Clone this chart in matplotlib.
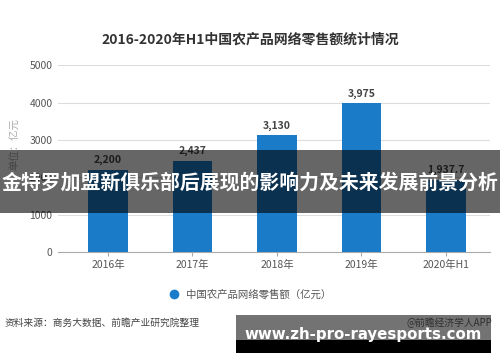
import matplotlib
matplotlib.use("Agg")
import matplotlib.pyplot as plt
from matplotlib.patches import Rectangle
from matplotlib.lines import Line2D

plt.rcParams['font.family'] = ['Noto Sans CJK SC', 'DejaVu Sans']

categories = ["2016年", "2017年", "2018年", "2019年", "2020年H1"]
values = [2200, 2437, 3130, 3975, 1937.7]
value_labels = ["2,200", "2,437", "3,130", "3,975", "1,937.7"]
yticks = [0, 1000, 2000, 3000, 4000, 5000]

title = "2016-2020年H1中国农产品网络零售额统计情况"
legend_label = "中国农产品网络零售额（亿元）"
source = "资料来源：商务大数据、前瞻产业研究院整理"
credit = "@前瞻经济学人APP"
banner = "金特罗加盟新俱乐部后展现的影响力及未来发展前景分析"
site = "www.zh-pro-rayesports.com"

fig = plt.figure(figsize=(5, 3.62), dpi=100)
fig.patch.set_facecolor("white")
ax = fig.add_axes([0.116, 0.304, 0.864, 0.516])

x = list(range(len(categories)))
bar_color = "#1a7cc8"
ax.bar(x, values, width=0.47, color=bar_color, zorder=3)
for xi, v, lab in zip(x, values, value_labels):
    ax.text(xi, v + 120, lab, ha="center", va="bottom", fontsize=7.5,
            fontweight="bold", color="#444444", zorder=4)

ax.set_xlim(-0.59, 4.52)
ax.set_ylim(0, 5000)
ax.set_yticks(yticks)
ax.set_yticklabels([str(t) for t in yticks], fontsize=7.5, color="#555555")
ax.set_xticks(x)
ax.set_xticklabels(categories, fontsize=7.5, color="#555555")
ax.grid(axis="y", color="#dddddd", linewidth=0.8, zorder=0)
for s in ["top", "right", "left"]:
    ax.spines[s].set_visible(False)
ax.spines["bottom"].set_color("#aaaaaa")
ax.tick_params(axis="y", length=0, pad=4)
ax.tick_params(axis="x", length=3, color="#aaaaaa", pad=3)
ax.set_ylabel("单位：亿元", fontsize=7.5, color="#aaaaaa", labelpad=2)
ax.yaxis.set_label_coords(-0.088, 0.58)

fig.text(0.5, 1 - 40 / 362, title, ha="center", va="center", fontsize=10,
         fontweight="bold", color="#333333")

handle = Line2D([], [], marker="o", linestyle="none", markersize=6,
                markerfacecolor=bar_color, markeredgecolor=bar_color)
leg = fig.legend([handle], [legend_label], loc="center",
                 bbox_to_anchor=(0.5, 1 - 294 / 362), frameon=False,
                 fontsize=7.5, handlelength=1.0, handletextpad=0.6)
for t in leg.get_texts():
    t.set_color("#555555")

fig.text(0.01, 1 - 323 / 362, source, ha="left", va="center", fontsize=7, color="#444444")
fig.text(0.985, 1 - 323 / 362, credit, ha="right", va="center", fontsize=7, color="#666666")

# banner overlay
fig.patches.append(Rectangle((0, 1 - 213 / 362), 1, 63 / 362, transform=fig.transFigure,
                             facecolor="black", alpha=0.6, zorder=10))
fig.text(0.5, 1 - 182 / 362, banner, ha="center", va="center", fontsize=14.3,
         fontweight="bold", color="white", zorder=11)

# site watermark
fig.patches.append(Rectangle((236 / 500, 1 - 340 / 362), 255 / 500, 25 / 362,
                             transform=fig.transFigure, facecolor="black", alpha=0.55, zorder=10))
fig.patches.append(Rectangle((236 / 500, 1 - 353 / 362), 255 / 500, 13 / 362,
                             transform=fig.transFigure, facecolor="black", zorder=10))
fig.text(363 / 500, 1 - 334 / 362, site, ha="center", va="center", fontsize=10.8,
         fontweight="bold", color="white", zorder=11, family="DejaVu Sans")

fig.savefig("out.png", dpi=100)
